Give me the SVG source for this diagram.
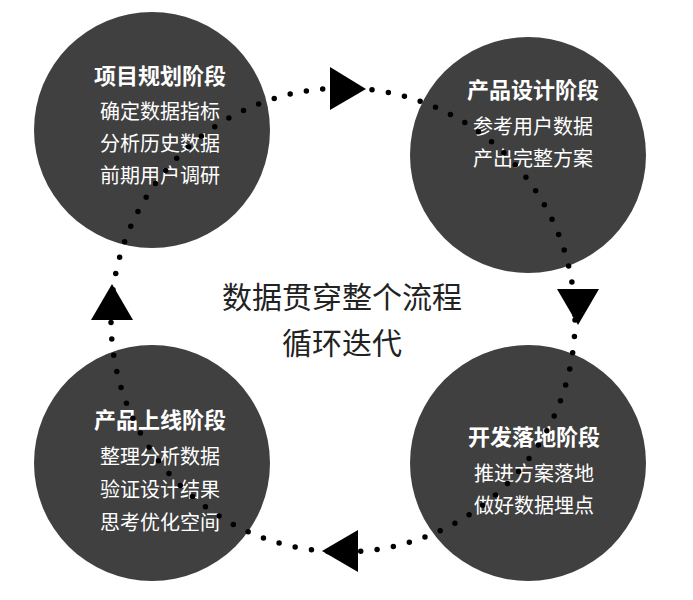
<svg xmlns="http://www.w3.org/2000/svg" width="693" height="600" viewBox="0 0 693 600">
<style>
.c{fill:#404040}
.t{font-family:"Noto Sans CJK SC",sans-serif;fill:#fff;text-anchor:middle}
.h{font-size:22px;font-weight:bold}
.b{font-size:20px}
.m{font-family:"Noto Sans CJK SC",sans-serif;fill:#222;font-size:30px;text-anchor:middle}
</style>
<rect width="693" height="600" fill="#fff"/>
<g id="n1"><circle class="c" cx="152" cy="130" r="118"/>
<text class="t h" x="160" y="84">项目规划阶段</text>
<text class="t b" x="160" y="119">确定数据指标</text>
<text class="t b" x="160" y="151">分析历史数据</text>
<text class="t b" x="160" y="183">前期用户调研</text></g>
<g id="n2"><circle class="c" cx="528" cy="155" r="118"/>
<text class="t h" x="533" y="98">产品设计阶段</text>
<text class="t b" x="533" y="134">参考用户数据</text>
<text class="t b" x="533" y="166">产出完整方案</text></g>
<g id="n3"><circle class="c" cx="528" cy="463" r="118"/>
<text class="t h" x="534" y="445">开发落地阶段</text>
<text class="t b" x="534" y="481">推进方案落地</text>
<text class="t b" x="534" y="513">做好数据埋点</text></g>
<g id="n4"><circle class="c" cx="152" cy="463" r="118"/>
<text class="t h" x="160" y="428">产品上线阶段</text>
<text class="t b" x="160" y="464">整理分析数据</text>
<text class="t b" x="160" y="497">验证设计结果</text>
<text class="t b" x="160" y="530">思考优化空间</text></g>
<g id="connectors">
<circle cx="343" cy="320" r="232" fill="none" stroke="#000" stroke-width="5.5" stroke-linecap="round" stroke-dasharray="0 16.5"/>
<polygon points="330,67 366,89 330,110"/>
<polygon points="557,289 599,289 578,325"/>
<polygon points="358,530 358,572 322,551"/>
<polygon points="91,320 133,320 112,284"/>
</g>
<text class="m" x="342" y="308">数据贯穿整个流程</text>
<text class="m" x="342" y="354">循环迭代</text>
</svg>
